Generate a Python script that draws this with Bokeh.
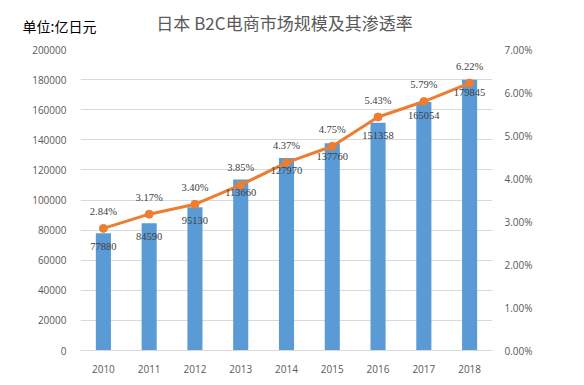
from bokeh.plotting import figure
from bokeh.layouts import column
from bokeh.models import (Range1d, LinearAxis, FixedTicker, ColumnDataSource, LabelSet,
                          PrintfTickFormatter, BasicTickFormatter)
from bokeh.core.properties import value
from bokeh.embed import file_html
from bokeh.resources import INLINE

years = ["2010", "2011", "2012", "2013", "2014", "2015", "2016", "2017", "2018"]
market = [77880, 84590, 95130, 113660, 127970, 137760, 151358, 165054, 179845]
rate = [2.84, 3.17, 3.40, 3.85, 4.37, 4.75, 5.43, 5.79, 6.22]
left_ticks = [0, 20000, 40000, 60000, 80000, 100000, 120000, 140000, 160000, 180000, 200000]
right_ticks = [0, 1, 2, 3, 4, 5, 6, 7]
title_text = "日本 B2C电商市场规模及其渗透率"
unit_text = "单位:亿日元"

W = 576
TOP_H = 41

# ---- header strip (title + unit) ----
h = figure(width=W, height=TOP_H, output_backend="svg", toolbar_location=None,
           x_range=Range1d(0, W), y_range=Range1d(TOP_H, 0),
           x_axis_type=None, y_axis_type=None,
           min_border_left=0, min_border_right=0, min_border_top=0, min_border_bottom=0)
h.frame_align = False
h.outline_line_color = None
h.xgrid.visible = False
h.ygrid.visible = False
h.text(x=[284], y=[22], text=[title_text], text_align="center", text_baseline="middle",
       text_font=value("Noto Sans CJK SC"), text_font_size="17px", text_color="#595959")
h.text(x=[22], y=[25], text=[unit_text], text_align="left", text_baseline="middle",
       text_font=value("Noto Sans CJK SC"), text_font_size="14px", text_color="#000000")

# ---- main chart ----
xs = [i + 0.5 for i in range(len(years))]
src = ColumnDataSource(dict(
    x=xs, market=market, rate=rate,
    mlab=[str(v) for v in market],
    rlab=["%.2f%%" % r for r in rate],
))

p = figure(width=W, height=336, output_backend="svg", toolbar_location=None,
           x_range=Range1d(0, len(years)), y_range=Range1d(0, 200000),
           min_border_left=80, min_border_right=W - 492, min_border_top=8, min_border_bottom=27)
p.frame_align = False
p.extra_y_ranges = {"pct": Range1d(0, 7)}
p.outline_line_color = None

tick_font = "Open Sans"
tick_color = "#595959"

xa = p.xaxis[0]
xa.ticker = FixedTicker(ticks=xs)
xa.major_label_overrides = {x: y for x, y in zip(xs, years)}
xa.axis_line_color = "#D9D9D9"
xa.major_tick_line_color = None
xa.minor_tick_line_color = None
xa.major_label_text_font = tick_font
xa.major_label_text_font_size = "10px"
xa.major_label_text_color = tick_color
xa.major_label_standoff = 8

ya = p.yaxis[0]
ya.ticker = FixedTicker(ticks=left_ticks)
ya.formatter = BasicTickFormatter(use_scientific=False)
ya.axis_line_color = None
ya.major_tick_line_color = None
ya.minor_tick_line_color = None
ya.major_label_text_font = tick_font
ya.major_label_text_font_size = "10px"
ya.major_label_text_color = tick_color
ya.major_label_standoff = 8

ra = LinearAxis(y_range_name="pct", ticker=FixedTicker(ticks=right_ticks),
                formatter=PrintfTickFormatter(format="%.2f%%"))
ra.axis_line_color = None
ra.major_tick_line_color = None
ra.minor_tick_line_color = None
ra.major_label_text_font = tick_font
ra.major_label_text_font_size = "10px"
ra.major_label_text_color = tick_color
ra.major_label_standoff = 6
p.add_layout(ra, "right")

p.xgrid.grid_line_color = None
p.ygrid.ticker = FixedTicker(ticks=left_ticks)
p.ygrid.grid_line_color = "#D9D9D9"

p.vbar(x="x", top="market", width=0.33, source=src, fill_color="#5B9BD5", line_color=None)
p.line(x="x", y="rate", source=src, y_range_name="pct", line_color="#ED7D31", line_width=3)
p.scatter(x="x", y="rate", source=src, y_range_name="pct", size=8,
          fill_color="#ED7D31", line_color="#ED7D31")

p.add_layout(LabelSet(x="x", y="market", text="mlab", source=src, y_offset=-13,
                      text_align="center", text_baseline="middle", text_font=tick_font,
                      text_font_size="10.5px", text_color="#404040"))
p.add_layout(LabelSet(x="x", y="rate", text="rlab", source=src, y_range_name="pct", y_offset=17,
                      text_align="center", text_baseline="middle", text_font=tick_font,
                      text_font_size="10.5px", text_color="#404040"))

layout = column(h, p, spacing=0)
open("out.html", "w").write(file_html(layout, INLINE))
